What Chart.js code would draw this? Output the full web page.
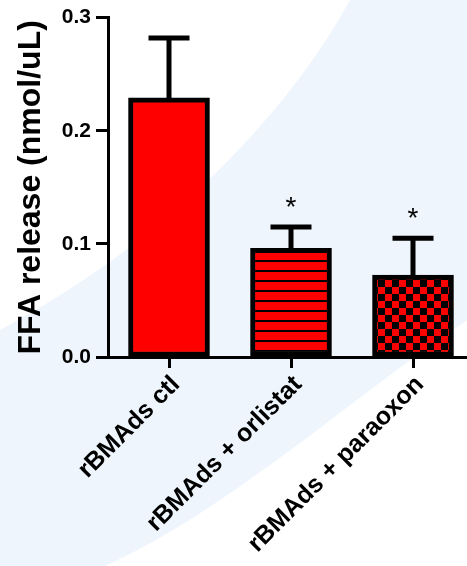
<!DOCTYPE html>
<html>
<head>
<meta charset="utf-8">
<script src="https://cdn.jsdelivr.net/npm/chart.js@4/dist/chart.umd.min.js"></script>
<style>
  html, body { margin: 0; padding: 0; background: #fff; overflow: hidden; }
  #wrap { width: 467px; height: 566px; overflow: hidden; }
  canvas { display: block; }
</style>
</head>
<body>
<div id="wrap"><canvas id="chart" width="475" height="566"></canvas></div>
<script>
// DATOS
const categories = ['rBMAds ctl', 'rBMAds + orlistat', 'rBMAds + paraoxon'];
const ffaMean = [0.229, 0.096, 0.0725];
const ffaErr = [0.053, 0.019, 0.0325];
const marks = ['', '*', '*'];
const yTicks = [0, 0.1, 0.2, 0.3];

// PATRONES
function rayas() {
    const c = document.createElement('canvas');
    c.width = 10; c.height = 10;
    const g = c.getContext('2d');
    g.fillStyle = '#ff0000'; g.fillRect(0, 0, 10, 10);
    g.fillStyle = '#000'; g.fillRect(0, 0, 10, 2);
    return g.createPattern(c, 'repeat');
}
function ajedrez() {
    const c = document.createElement('canvas');
    c.width = 14; c.height = 14;
    const g = c.getContext('2d');
    g.fillStyle = '#ff0000'; g.fillRect(0, 0, 14, 14);
    g.fillStyle = '#000'; g.fillRect(0, 0, 7, 7); g.fillRect(7, 7, 7, 7);
    return g.createPattern(c, 'repeat');
}

// fondo azul claro
const fondo = {
    id: 'fondo',
    beforeDraw(chart) {
        const ctx = chart.ctx;
        ctx.save();
        ctx.fillStyle = '#eef5fc';
        ctx.beginPath();
        ctx.moveTo(350, 0);
        ctx.bezierCurveTo(290, 110, 170, 240, 0, 330);
        ctx.lineTo(0, 566);
        ctx.lineTo(105, 566);
        ctx.bezierCurveTo(230, 510, 360, 390, 475, 315);
        ctx.lineTo(475, 0);
        ctx.closePath();
        ctx.fill();
        ctx.restore();
    }
};

// barras de error y asteriscos
const errores = {
    id: 'errores',
    afterDatasetsDraw(chart) {
        const ctx = chart.ctx;
        const y = chart.scales.y;
        const meta = chart.getDatasetMeta(0);
        ctx.save();
        ctx.strokeStyle = '#000';
        ctx.lineWidth = 5;
        ctx.lineCap = 'butt';
        meta.data.forEach((bar, i) => {
            const top = y.getPixelForValue(ffaMean[i] + ffaErr[i]);
            const base = y.getPixelForValue(ffaMean[i]);
            ctx.beginPath();
            ctx.moveTo(bar.x, base);
            ctx.lineTo(bar.x, top);
            ctx.moveTo(bar.x - 20.5, top);
            ctx.lineTo(bar.x + 20.5, top);
            ctx.stroke();
            if (marks[i]) {
                ctx.fillStyle = '#000';
                ctx.font = '28px "Liberation Sans", Arial, sans-serif';
                ctx.textAlign = 'center';
                ctx.textBaseline = 'alphabetic';
                ctx.fillText(marks[i], bar.x, top - 11);
            }
        });
        ctx.restore();
    }
};

const ctx = document.getElementById('chart').getContext('2d');
new Chart(ctx, {
    type: 'bar',
    data: {
        labels: categories,
        datasets: [{
            data: ffaMean,
            backgroundColor: ['#ff0000', rayas(), ajedrez()],
            borderColor: '#000',
            borderWidth: 5,
            borderSkipped: false,
            barThickness: 81
        }]
    },
    options: {
        responsive: false,
        animation: false,
        layout: { padding: { top: 15, right: 1, left: 0, bottom: 0 } },
        plugins: { legend: { display: false }, tooltip: { enabled: false } },
        scales: {
            x: {
                afterFit: s => { s.height = 209; },
                grid: { offset: false, drawOnChartArea: false, tickLength: 11, tickWidth: 3, tickColor: '#000' },
                border: { display: true, color: '#000', width: 3 },
                ticks: {
                    autoSkip: false, minRotation: 45, maxRotation: 45, padding: 2, labelOffset: 7,
                    color: '#000',
                    font: { family: '"Liberation Sans", Arial, sans-serif', size: 25, weight: 'bold' }
                }
            },
            y: {
                min: 0, max: 0.3,
                afterFit: s => { s.width = 108; },
                afterBuildTicks: s => { s.ticks = yTicks.map(v => ({ value: v })); },
                grid: { drawOnChartArea: false, tickLength: 12, tickWidth: 3, tickColor: '#000' },
                border: { display: true, color: '#000', width: 3 },
                ticks: {
                    padding: 5, color: '#000',
                    callback: v => Number(v).toFixed(1),
                    font: { family: '"Liberation Sans", Arial, sans-serif', size: 21, weight: 'bold' }
                },
                title: {
                    display: true, text: 'FFA release (nmol/uL)', color: '#000',
                    padding: { top: 12, bottom: 0 },
                    font: { family: '"Liberation Sans", Arial, sans-serif', size: 32, weight: 'bold' }
                }
            }
        }
    },
    plugins: [fondo, errores]
});
</script>
</body>
</html>
